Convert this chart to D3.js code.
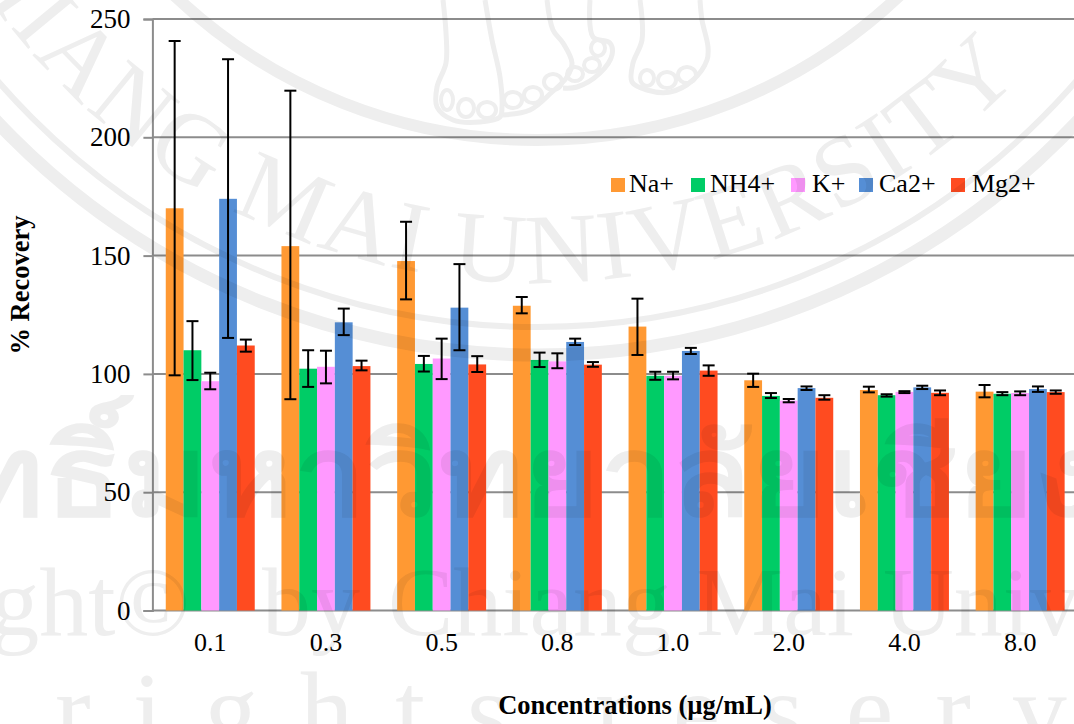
<!DOCTYPE html>
<html>
<head>
<meta charset="utf-8">
<script src="https://cdn.jsdelivr.net/npm/d3@7"></script>
<style>
  html, body { margin: 0; padding: 0; background: #fff; overflow: hidden; }
  svg { display: block; font-family: "Liberation Serif", serif; }
</style>
</head>
<body>
<svg id="chart" width="1074" height="724"></svg>
<script>
const concentrations = ["0.1", "0.3", "0.5", "0.8", "1.0", "2.0", "4.0", "8.0"];
const ions = ["Na+", "NH4+", "K+", "Ca2+", "Mg2+"];
const yTicks = [0, 50, 100, 150, 200, 250];

const naMean = [170, 154, 147.7, 128.8, 120, 97.3, 93.2, 92.5];
const naHigh = [240.7, 219.7, 164.3, 132.5, 131.8, 100.1, 94.6, 95.3];
const naLow = [99.4, 89.3, 131.5, 125.6, 108, 94.5, 92.2, 90.1];

const nh4Mean = [110, 102.2, 104.2, 105.9, 99.2, 90.7, 91, 91.6];
const nh4High = [122.3, 110, 107.6, 109, 100.9, 91.9, 91.4, 92.3];
const nh4Low = [97.4, 94.5, 101, 102.9, 97.5, 89.8, 90.4, 91];

const kMean = [96.9, 103, 106.5, 105.3, 99.2, 88.7, 92.4, 91.9];
const kHigh = [100.5, 109.8, 114.9, 108.7, 100.9, 89.4, 92.7, 92.6];
const kLow = [93.5, 96, 97.8, 102.4, 97.7, 88, 91.9, 91];

const caMean = [174, 121.8, 128, 113.5, 109.7, 94, 94.3, 93.6];
const caHigh = [233, 127.6, 146.4, 114.9, 111, 94.7, 95, 94.7];
const caLow = [115.2, 116.4, 110, 112.2, 108.4, 93.2, 93.6, 92.4];

const mgMean = [112, 103.3, 104, 103.9, 101.4, 89.9, 92, 92.3];
const mgHigh = [114.5, 105.6, 107.5, 105, 103.6, 91, 93, 93];
const mgLow = [109.4, 101.5, 100.8, 103, 99.2, 89.1, 91, 91.6];

const colors = ["#ff9933", "#00cc66", "#ff99ff", "#558ed5", "#ff4b20"];
const means = [naMean, nh4Mean, kMean, caMean, mgMean];
const highs = [naHigh, nh4High, kHigh, caHigh, mgHigh];
const lows = [naLow, nh4Low, kLow, caLow, mgLow];

const gridColor = "#8c8c8c";
const svg = d3.select("#chart");

let x = d3.scaleBand()
  .domain(concentrations)
  .range([152.4, 1078])
  .paddingInner(0.231)
  .paddingOuter(0.1155);

let xInner = d3.scaleBand()
  .domain(ions)
  .range([0, x.bandwidth()]);

let y = d3.scaleLinear()
  .domain([0, 250])
  .range([610.5, 19]);

// gridlines and axes
let yAxis = svg.append("g")
  .attr("transform", "translate(152.4, 0)")
  .call(d3.axisLeft(y).tickValues(yTicks).tickSize(9).tickPadding(13));

yAxis.select(".domain").attr("stroke", gridColor).attr("stroke-width", 2);
yAxis.selectAll(".tick line").attr("stroke", gridColor).attr("stroke-width", 2);
yAxis.selectAll("text").attr("font-size", 27).attr("font-family", "Liberation Serif").attr("fill", "#000");

svg.append("g")
  .selectAll("line")
  .data(yTicks)
  .enter()
  .append("line")
  .attr("x1", 152.4)
  .attr("x2", 1074)
  .attr("y1", (d) => y(d))
  .attr("y2", (d) => y(d))
  .attr("stroke", gridColor)
  .attr("stroke-width", 2);

let xAxis = svg.append("g")
  .attr("transform", `translate(0, ${y(0)})`)
  .call(d3.axisBottom(x).tickSize(0).tickPadding(22));

xAxis.select(".domain").remove();
xAxis.selectAll("text").attr("font-size", 26).attr("font-family", "Liberation Serif").attr("fill", "#000");

// bars
let groups = svg.append("g")
  .selectAll("g")
  .data(ions)
  .enter()
  .append("g")
  .attr("fill", (d, i) => colors[i]);

groups.each(function (ion, s) {
  let g = d3.select(this);

  g.selectAll("rect")
    .data(concentrations)
    .enter()
    .append("rect")
    .attr("x", (c) => x(c) + xInner(ion))
    .attr("width", xInner.bandwidth())
    .attr("y", (c, i) => y(means[s][i]))
    .attr("height", (c, i) => y(0) - y(means[s][i]));
});

// error bars
let capHalf = 6;
let errors = svg.append("g").attr("stroke", "#000").attr("stroke-width", 2);

ions.forEach((ion, s) => {
  let bars = errors.append("g")
    .selectAll("g")
    .data(concentrations)
    .enter()
    .append("g")
    .attr("transform", (c) => `translate(${x(c) + xInner(ion) + xInner.bandwidth() / 2}, 0)`);

  bars.append("line")
    .attr("y1", (c, i) => y(highs[s][i]))
    .attr("y2", (c, i) => y(lows[s][i]));

  bars.append("line")
    .attr("x1", -capHalf)
    .attr("x2", capHalf)
    .attr("y1", (c, i) => y(highs[s][i]))
    .attr("y2", (c, i) => y(highs[s][i]));

  bars.append("line")
    .attr("x1", -capHalf)
    .attr("x2", capHalf)
    .attr("y1", (c, i) => y(lows[s][i]))
    .attr("y2", (c, i) => y(lows[s][i]));
});

// legend
const legendSwatchX = [611, 691, 791, 859, 951];
const legendTextX = [629, 710, 812, 879, 972];

let legend = svg.append("g");

legend.selectAll("rect")
  .data(ions)
  .enter()
  .append("rect")
  .attr("x", (d, i) => legendSwatchX[i])
  .attr("y", 178)
  .attr("width", 14)
  .attr("height", 14)
  .attr("fill", (d, i) => colors[i]);

legend.selectAll("text")
  .data(ions)
  .enter()
  .append("text")
  .attr("x", (d, i) => legendTextX[i])
  .attr("y", 192)
  .attr("font-size", 26)
  .text((d) => d);

// axis titles
svg.append("text")
  .attr("x", 635)
  .attr("y", 714)
  .attr("text-anchor", "middle")
  .attr("font-size", 26.5)
  .attr("font-weight", 700)
  .text("Concentrations (µg/mL)");

svg.append("text")
  .attr("transform", "translate(29, 285) rotate(-90)")
  .attr("text-anchor", "middle")
  .attr("font-size", 26.5)
  .attr("font-weight", 700)
  .text("% Recovery");

// university watermark, sits over everything and darkens the bars
let mark = svg.append("g")
  .attr("fill", "#eeeeee")
  .style("mix-blend-mode", "multiply");

const sealRings = [[527, 12], [714, 6], [742, 13]];

mark.selectAll("circle")
  .data(sealRings)
  .enter()
  .append("circle")
  .attr("cx", 537)
  .attr("cy", -387)
  .attr("r", (d) => d[0])
  .attr("fill", "none")
  .attr("stroke", "#eeeeee")
  .attr("stroke-width", (d) => d[1]);

// elephant feet at the top of the seal, traced by eye
const footOutlines = [
  [[443, 0], [446, 33], [446, 63], [437, 87], [437, 107], [453, 120], [480, 122], [500, 117], [502, 107], [500, 77], [492, 40], [485, 0]],
  [[547, 0], [553, 30], [563, 43], [572, 63], [567, 77], [552, 92], [530, 110], [503, 115]],
  [[590, 0], [593, 37], [610, 43], [612, 55], [600, 73], [577, 87], [563, 88]],
  [[640, 0], [642, 40], [633, 63], [632, 82], [647, 90], [670, 92], [693, 80], [707, 60], [708, 47], [702, 20], [700, 0]]
];
const footToes = [
  [447, 100, 6, 10], [466, 108, 8, 9], [487, 110, 9, 8],
  [513, 100, 9, 8], [533, 95, 9, 8], [553, 82, 9, 8],
  [575, 74, 8, 7], [592, 65, 8, 7], [598, 48, 7, 8],
  [647, 78, 7, 8], [667, 80, 9, 8], [687, 75, 9, 8]
];

let footLine = d3.line().curve(d3.curveCatmullRom);

mark.selectAll("path.foot")
  .data(footOutlines)
  .enter()
  .append("path")
  .attr("class", "foot")
  .attr("d", (d) => footLine(d))
  .attr("fill", "none")
  .attr("stroke", "#eeeeee")
  .attr("stroke-width", 5);

mark.selectAll("ellipse")
  .data(footToes)
  .enter()
  .append("ellipse")
  .attr("cx", (d) => d[0])
  .attr("cy", (d) => d[1])
  .attr("rx", (d) => d[2])
  .attr("ry", (d) => d[3])
  .attr("fill", "none")
  .attr("stroke", "#eeeeee")
  .attr("stroke-width", 4);

svg.append("defs")
  .append("path")
  .attr("id", "sealArc")
  .attr("d", "M -63 -89 A 670 670 0 0 0 1137 -89");

mark.append("text")
  .attr("font-size", 100)
  .attr("letter-spacing", 3)
  .append("textPath")
  .attr("href", "#sealArc")
  .attr("startOffset", "43%")
  .attr("text-anchor", "middle")
  .text("CHIANG MAI UNIVERSITY");

mark.append("text")
  .attr("transform", "translate(-288, 515) scale(1.15, 1)")
  .attr("font-size", 112)
  .attr("font-weight", 700)
  .attr("font-family", "Noto Sans, Noto Sans CJK SC, sans-serif")
  .text("ลิขสิทธิ์มหาวิทยาลัยเชียงใหม่");

const copyrightWords = ["Copyright©", "by", "Chiang", "Mai", "University"];
const copyrightX = [190, 262, 388, 696, 883];

mark.selectAll("text.copyright")
  .data(copyrightWords)
  .enter()
  .append("text")
  .attr("class", "copyright")
  .attr("x", (d, i) => copyrightX[i])
  .attr("y", 635)
  .attr("text-anchor", (d, i) => (i === 0 ? "end" : "start"))
  .attr("font-size", 98)
  .text((d) => d);

const rightsWords = ["rights", "reserved"];
const rightsX = [55, 595];

mark.selectAll("text.rights")
  .data(rightsWords)
  .enter()
  .append("text")
  .attr("class", "rights")
  .attr("x", (d, i) => rightsX[i])
  .attr("y", 747)
  .attr("font-size", 107)
  .attr("letter-spacing", 42)
  .text((d) => d);
</script>
</body>
</html>
